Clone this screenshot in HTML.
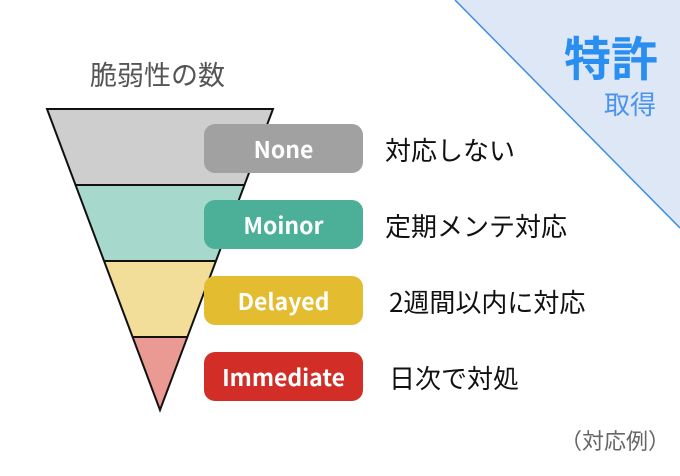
<!DOCTYPE html><html><head><meta charset="utf-8"><style>
body{margin:0;width:680px;height:476px;overflow:hidden;background:#fff;font-family:"Noto Sans CJK JP","Liberation Sans",sans-serif;}
.t{position:absolute;white-space:nowrap}
.b{position:absolute;left:204px;width:159px;height:49px;border-radius:11px;color:#fff;font-weight:bold;font-size:23px;line-height:49px;text-align:center;font-family:"Noto Sans CJK JP","Liberation Sans",sans-serif}
.j{position:absolute;left:385px;font-size:26px;color:#111;line-height:49px}
</style></head><body>
<svg width="680" height="476" style="position:absolute;left:0;top:0">
<polygon points="455,0 680,0 680,228" fill="#dde7f6"/>
<line x1="455" y1="0" x2="680" y2="228" stroke="#3a8ee6" stroke-width="1.5"/>
<polygon points="47,109 273,109 244.5,185 75.5,185" fill="#cecece"/>
<polygon points="75.5,185 244.5,185 216,261 104,261" fill="#a6d8cc"/>
<polygon points="104,261 216,261 187.4,337 132.6,337" fill="#f2de98"/>
<polygon points="132.6,337 187.4,337 160,410" fill="#ea9993"/>
<polygon points="47,109 273,109 160,410" fill="none" stroke="#111" stroke-width="2"/>
<line x1="75.5" y1="185" x2="244.5" y2="185" stroke="#111" stroke-width="2"/>
<line x1="104" y1="261" x2="216" y2="261" stroke="#111" stroke-width="2"/>
<line x1="132.6" y1="337" x2="187.4" y2="337" stroke="#111" stroke-width="2"/>
</svg>
<div class="t" style="left:90px;top:54px;font-size:27px;color:#555">脆弱性の数</div>
<div class="t" style="left:564px;top:21px;font-size:47px;font-weight:bold;color:#2a8ef0">特許</div>
<div class="t" style="left:604px;top:85px;font-size:26px;color:#4a94ee">取得</div>
<div class="b" style="top:124px;background:#a0a1a0">None</div>
<div class="b" style="top:200px;background:#4caf98">Moinor</div>
<div class="b" style="top:276px;background:#e3bc2f">Delayed</div>
<div class="b" style="top:352px;background:#d22e27">Immediate</div>
<div class="j" style="top:125px">対応しない</div>
<div class="j" style="top:201px">定期メンテ対応</div>
<div class="j" style="top:277px;left:389px">2週間以内に対応</div>
<div class="j" style="top:353px;left:389px">日次で対処</div>
<div class="t" style="left:560px;top:424px;font-size:22px;color:#666">（対応例）</div>
</body></html>
